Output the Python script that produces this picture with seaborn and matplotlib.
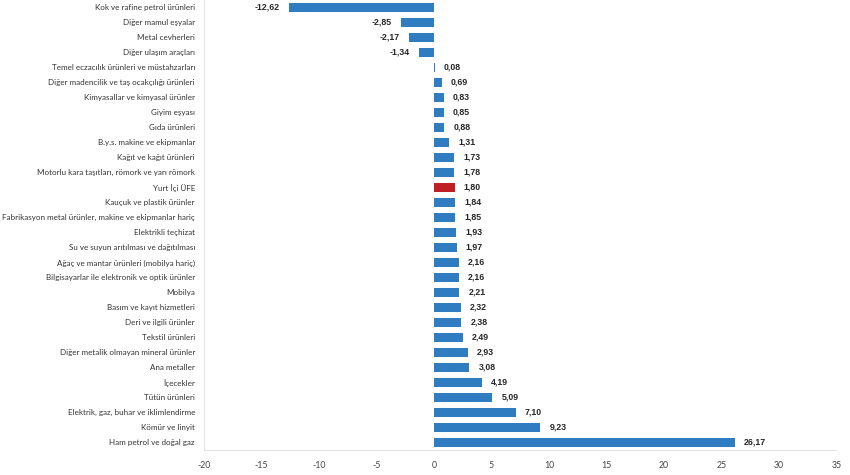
import matplotlib
matplotlib.use('Agg')
import matplotlib.pyplot as plt
import pandas as pd
import seaborn as sns

categories = [
    'Kok ve rafine petrol ürünleri', 'Diğer mamul eşyalar', 'Metal cevherleri',
    'Diğer ulaşım araçları', 'Temel eczacılık ürünleri ve müstahzarları',
    'Diğer madencilik ve taş ocakçılığı ürünleri', 'Kimyasallar ve kimyasal ürünler',
    'Giyim eşyası', 'Gıda ürünleri', 'B.y.s. makine ve ekipmanlar',
    'Kağıt ve kağıt ürünleri', 'Motorlu kara taşıtları, römork ve yarı römork',
    'Yurt İçi ÜFE', 'Kauçuk ve plastik ürünler',
    'Fabrikasyon metal ürünler, makine ve ekipmanlar hariç', 'Elektrikli teçhizat',
    'Su ve suyun arıtılması ve dağıtılması', 'Ağaç ve mantar ürünleri (mobilya hariç)',
    'Bilgisayarlar ile elektronik ve optik ürünler', 'Mobilya',
    'Basım ve kayıt hizmetleri', 'Deri ve ilgili ürünler', 'Tekstil ürünleri',
    'Diğer metalik olmayan mineral ürünler', 'Ana metaller', 'İçecekler',
    'Tütün ürünleri', 'Elektrik, gaz, buhar ve iklimlendirme', 'Kömür ve linyit',
    'Ham petrol ve doğal gaz',
]
values = [-12.62, -2.85, -2.17, -1.34, 0.08, 0.69, 0.83, 0.85, 0.88, 1.31,
          1.73, 1.78, 1.80, 1.84, 1.85, 1.93, 1.97, 2.16, 2.16, 2.21,
          2.32, 2.38, 2.49, 2.93, 3.08, 4.19, 5.09, 7.10, 9.23, 26.17]
highlight = 'Yurt İçi ÜFE'
x_ticks = [-20, -15, -10, -5, 0, 5, 10, 15, 20, 25, 30, 35]

df = pd.DataFrame({'cat': categories, 'val': values})
df['grp'] = ['h' if c == highlight else 'n' for c in df['cat']]

sns.set_style('white')
plt.rcParams['font.family'] = ['Lato', 'DejaVu Sans']

fig = plt.figure(figsize=(8.5, 4.75), dpi=100)
ax = fig.add_axes([0.24, 0.053, 0.744, 0.947])

sns.barplot(data=df, x='val', y='cat', hue='grp', orient='h', dodge=False,
            palette={'n': '#2F7DC0', 'h': '#BF1E24'}, width=0.6,
            saturation=1, linewidth=0, legend=False, ax=ax)

ax.set_xlim(-20, 35)
ax.set_ylim(len(categories) - 0.5, -0.5)
ax.set_xticks(x_ticks)
ax.set_xticklabels([str(t) for t in x_ticks], fontsize=6.3, color='#444444')
ax.tick_params(axis='y', labelsize=5.8, labelcolor='#333333', length=0, pad=6.5)
ax.tick_params(axis='x', length=0, pad=8)
ax.set_xlabel('')
ax.set_ylabel('')

for s in ['top', 'right']:
    ax.spines[s].set_visible(False)
for s in ['left', 'bottom']:
    ax.spines[s].set_color('#e3e3e3')
    ax.spines[s].set_linewidth(0.8)

for i, v in enumerate(values):
    txt = f'{v:.2f}'.replace('.', ',')
    if v >= 0:
        ax.text(v + 0.8, i, txt, va='center', ha='left', fontsize=6.3,
                fontweight='bold', family='Liberation Sans')
    else:
        ax.text(v - 0.8, i, txt, va='center', ha='right', fontsize=6.3,
                fontweight='bold', family='Liberation Sans')

fig.savefig('out.png', dpi=100)
